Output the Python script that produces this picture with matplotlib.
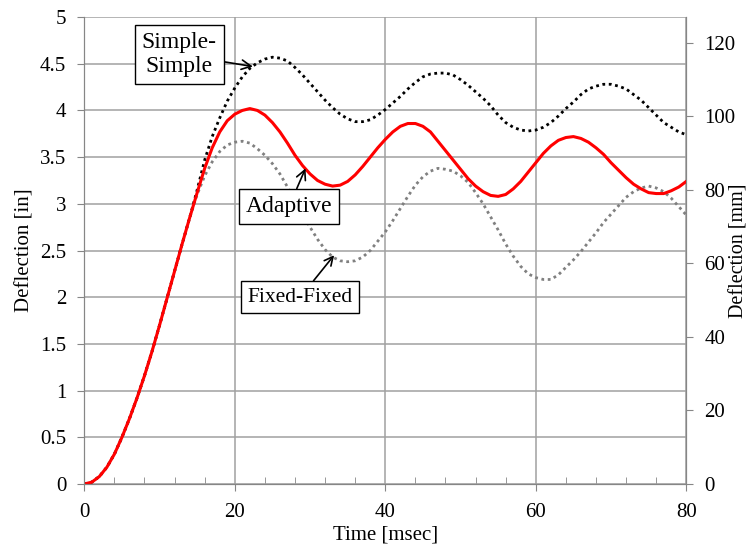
import matplotlib
matplotlib.use('Agg')
import matplotlib.pyplot as plt
from matplotlib.ticker import MultipleLocator

plt.rcParams['font.family'] = ['Liberation Serif', 'DejaVu Serif']
plt.rcParams['font.size'] = 15

# rise shared by all three solutions (msec, in)
rise_t = [0, 1, 2, 3, 4, 5, 6, 7, 8, 9, 10, 11, 12, 13, 14]
rise_d = [0, 0.02, 0.08, 0.18, 0.32, 0.50, 0.70, 0.92, 1.16, 1.42, 1.70, 1.99, 2.28, 2.57, 2.85]

tail_t = list(range(15, 81))
simple_tail = [3.15, 3.47, 3.72, 3.92, 4.10, 4.24, 4.36, 4.45, 4.51, 4.55, 4.57, 4.56, 4.53, 4.46,
               4.38, 4.29, 4.20, 4.11, 4.03, 3.96, 3.91, 3.88, 3.88, 3.90, 3.95, 4.01, 4.08, 4.15,
               4.23, 4.30, 4.36, 4.39, 4.40, 4.40, 4.38, 4.33, 4.27, 4.20, 4.13, 4.05, 3.95, 3.87,
               3.82, 3.79, 3.78, 3.79, 3.82, 3.87, 3.94, 4.02, 4.09, 4.17, 4.23, 4.26, 4.28, 4.28,
               4.26, 4.23, 4.17, 4.11, 4.03, 3.95, 3.87, 3.82, 3.77, 3.74]
adaptive_tail = [3.12, 3.38, 3.60, 3.77, 3.89, 3.96, 4.00, 4.02, 4.00, 3.95, 3.87, 3.77, 3.65,
                 3.52, 3.41, 3.32, 3.25, 3.21, 3.19, 3.20, 3.24, 3.31, 3.40, 3.50, 3.60, 3.69,
                 3.77, 3.83, 3.86, 3.86, 3.83, 3.77, 3.67, 3.57, 3.47, 3.37, 3.27, 3.19, 3.13,
                 3.09, 3.08, 3.10, 3.16, 3.24, 3.34, 3.44, 3.54, 3.62, 3.68, 3.71, 3.72, 3.70,
                 3.66, 3.60, 3.53, 3.44, 3.36, 3.28, 3.21, 3.16, 3.12, 3.11, 3.11, 3.14, 3.18, 3.24]
fixed_tail = [3.10, 3.30, 3.45, 3.56, 3.63, 3.66, 3.67, 3.65, 3.59, 3.52, 3.43, 3.32, 3.18, 3.03,
              2.89, 2.75, 2.62, 2.51, 2.43, 2.39, 2.38, 2.39, 2.43, 2.50, 2.60, 2.70, 2.82, 2.95,
              3.08, 3.20, 3.29, 3.35, 3.38, 3.37, 3.35, 3.30, 3.23, 3.12, 3.00, 2.86, 2.72, 2.57,
              2.44, 2.33, 2.25, 2.21, 2.19, 2.19, 2.24, 2.32, 2.40, 2.49, 2.59, 2.69, 2.80, 2.89,
              2.98, 3.07, 3.13, 3.17, 3.19, 3.17, 3.13, 3.06, 2.97, 2.88]

t = rise_t + tail_t
simple = rise_d + simple_tail
adaptive = rise_d + adaptive_tail
fixed = rise_d + fixed_tail

grid_c = '#a0a0a0'
spine_c = '#868686'

fig = plt.figure(figsize=(7.54, 5.5), dpi=100)
ax = fig.add_axes([0.1118, 0.12, 0.7984, 0.849])

ax.plot(t, fixed, color='#808080', lw=2.0, ls=(0, (1, 1.3)), dash_capstyle='butt', zorder=3)
ax.plot(t, simple, color='black', lw=2.0, ls=(0, (1, 1.3)), dash_capstyle='butt', zorder=4)
ax.plot(t, adaptive, color='#ff0000', lw=2.2, zorder=5)

ax.set_xlim(0, 80)
ax.set_ylim(0, 5)
ax.xaxis.set_major_locator(MultipleLocator(20))
ax.xaxis.set_minor_locator(MultipleLocator(4))
ax.set_yticks([0, 0.5, 1, 1.5, 2, 2.5, 3, 3.5, 4, 4.5, 5],
              ['0', '0.5', '1', '1.5', '2', '2.5', '3', '3.5', '4', '4.5', '5'])
ax.grid(True, which='major', color=grid_c, lw=1.1)
ax.tick_params(axis='x', which='major', direction='out', length=5, color=spine_c, pad=9)
ax.tick_params(axis='x', which='minor', direction='in', length=5, color=spine_c)
ax.tick_params(axis='y', direction='out', length=5, color=spine_c, pad=8)
for s in ax.spines.values():
    s.set_color(spine_c)
ax.spines['top'].set_visible(False)
ax.set_xlabel('Time [msec]', labelpad=2)
ax.set_ylabel('Deflection [in]', labelpad=4)

ax2 = ax.twinx()
ax2.set_ylim(0, 5 * 25.4)
ax2.yaxis.set_major_locator(MultipleLocator(20))
ax2.tick_params(axis='y', direction='out', length=5, color=spine_c, pad=8)
for s in ax2.spines.values():
    s.set_color(spine_c)
ax2.spines['top'].set_visible(False)
ax2.set_ylabel('Deflection [mm]', fontsize=14.5, rotation=90, va='center')
ax2.yaxis.set_label_coords(1.087, 0.5)

box = dict(boxstyle='square,pad=0.3', fc='white', ec='black', lw=1)
arrow = dict(arrowstyle='->', color='black', lw=1.2, shrinkA=0, shrinkB=0)
ax.annotate('Simple-\nSimple', xy=(22.4, 4.47), xytext=(12.6, 4.6), ha='center', va='center',
            bbox=box, arrowprops=arrow, zorder=6, fontsize=17)
ax.annotate('Adaptive', xy=(29.4, 3.38), xytext=(27.2, 2.97), ha='center', va='center',
            bbox=box, arrowprops=arrow, zorder=6, fontsize=17)
ax.annotate('Fixed-Fixed', xy=(33.2, 2.45), xytext=(28.7, 2.0), ha='center', va='center',
            bbox=box, arrowprops=arrow, zorder=6, fontsize=15.5)

fig.savefig('out.png', dpi=100)
